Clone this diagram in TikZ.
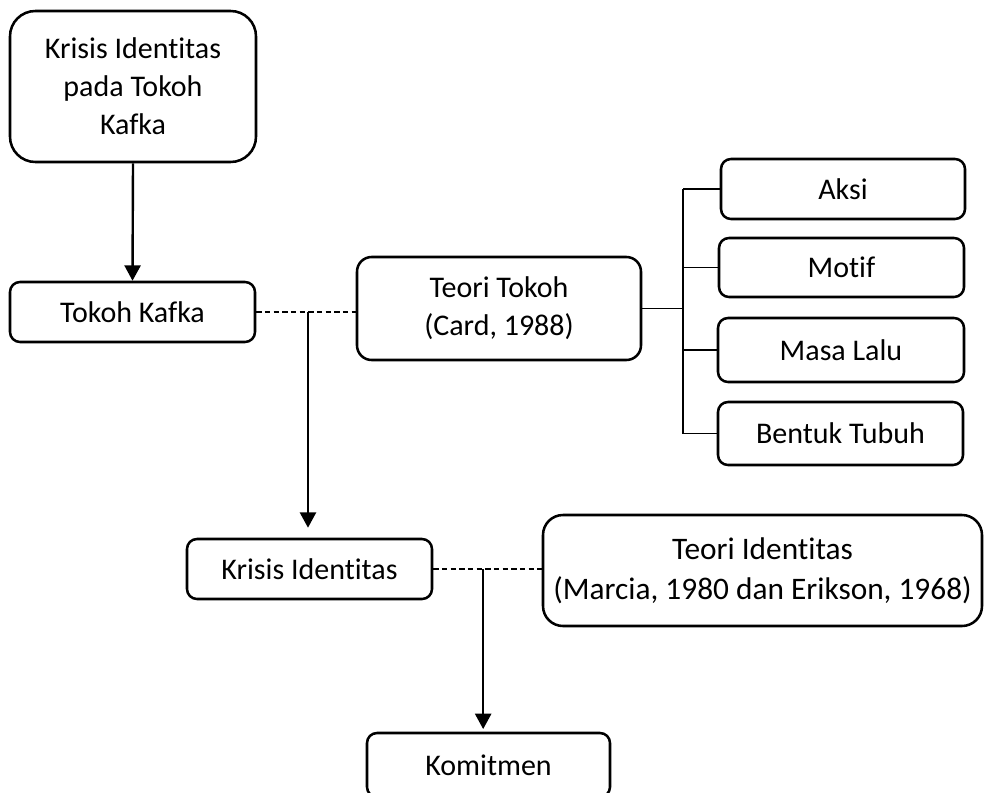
\documentclass[tikz,border=0pt]{standalone}
\usepackage{fontspec}
\setmainfont{Carlito}[Ligatures=NoCommon]
\usetikzlibrary{arrows.meta,calc}
\begin{document}
\begin{tikzpicture}[x=0.75pt,y=-0.75pt,
  box/.style={draw=black,line width=1.9pt,rectangle,inner sep=0pt,align=center,
    font=\fontsize{22.5}{28.5}\selectfont},
  arr/.style={line width=1.8pt,-{Triangle[width=12pt,length=11.5pt]}},
  dashline/.style={line width=0.9pt,dash pattern=on 4pt off 2.5pt},
  thin/.style={line width=0.9pt}]
\useasboundingbox (0,0) rectangle (984,792);
\clip (0,0) rectangle (984,792);
\node[box,rounded corners=19pt,minimum width=184.5pt,minimum height=113.25pt] (top) at (133,86.5) {Krisis Identitas\\pada Tokoh\\Kafka};
\node[box,rounded corners=7.5pt,minimum width=183.75pt,minimum height=45pt] (tk) at (132.5,312) {Tokoh Kafka};
\node[box,rounded corners=11pt,minimum width=213pt,minimum height=77.25pt] (tt) at (499,308.5) {Teori Tokoh\\(Card, 1988)};
\node[box,rounded corners=7.5pt,minimum width=183pt,minimum height=45pt] (aksi) at (843,189) {Aksi};
\node[box,rounded corners=7.5pt,minimum width=183.75pt,minimum height=44.25pt] (motif) at (841.5,267.5) {Motif};
\node[box,rounded corners=7.5pt,minimum width=184.5pt,minimum height=48pt] (masa) at (841,350) {Masa Lalu};
\node[box,rounded corners=7.5pt,minimum width=183.75pt,minimum height=47.25pt] (bentuk) at (840.5,433.5) {Bentuk Tubuh};
\node[box,rounded corners=7.5pt,minimum width=183.75pt,minimum height=45pt] (ki) at (309.5,569) {Krisis Identitas};
\node[box,rounded corners=15pt,minimum width=329.25pt,minimum height=83.25pt,font=\fontsize{23.5}{30}\selectfont] (ti) at (762.5,570.5) {Teori Identitas\\(Marcia, 1980 dan Erikson, 1968)};
\node[box,rounded corners=7.5pt,minimum width=182.25pt,minimum height=48pt] (kom) at (488.5,765) {Komitmen};
% arrows and dashed links
\draw[arr] (top.south) -- (tk.north);
\draw[dashline] (tk.east) -- (tk.east -| tt.west);
\coordinate (j1) at ($(tk.east)!0.52!(tk.east -| tt.west)$);
\draw[arr,shorten >=7.5pt] (j1) -- (j1 |- ki.north);
\draw[dashline] (ki.east) -- (ki.east -| ti.west);
\coordinate (j2) at ($(ki.east)!0.46!(ki.east -| ti.west)$);
\draw[arr,shorten >=2pt] (j2) -- (j2 |- kom.north);
% bracket
\coordinate (b) at (683,308);
\draw[thin] (tt.east) -- (b |- tt.east);
\draw[thin] (b |- aksi.west) -- (b |- bentuk.west);
\draw[thin] (b |- aksi.west) -- (aksi.west);
\draw[thin] (b |- motif.west) -- (motif.west);
\draw[thin] (b |- masa.west) -- (masa.west);
\draw[thin] (b |- bentuk.west) -- (bentuk.west);
\end{tikzpicture}
\end{document}
